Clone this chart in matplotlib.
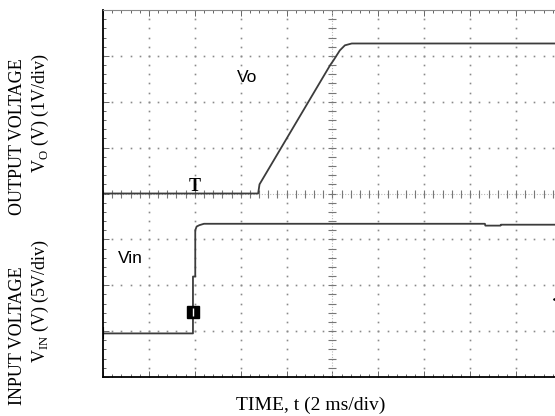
import numpy as np
import matplotlib
matplotlib.use("Agg")
from matplotlib import pyplot as plt
from matplotlib.ticker import MultipleLocator, NullFormatter

plt.rcParams['mathtext.fontset'] = 'custom'
plt.rcParams['mathtext.rm'] = 'Liberation Serif'

# 数据 (单位: 格 div) —— 横轴 0..10 div, 纵轴 0..8 div
vo_t = [0.0, 3.38, 3.41, 4.95, 5.02, 5.16, 5.27, 5.42, 10.0]
vo_v = [4.0, 4.0, 4.20, 6.80, 6.90, 7.12, 7.23, 7.27, 7.27]

vin_t = [0.0, 1.96, 1.96, 2.01, 2.01, 2.04, 2.10, 2.20, 8.32, 8.33, 8.66, 8.67, 10.0]
vin_v = [0.95, 0.95, 2.19, 2.19, 3.20, 3.28, 3.31, 3.34, 3.34, 3.30, 3.30, 3.32, 3.32]

trig_t = 1.97        # 触发标记位置
trig_level = 1.41
trig_arrow = 1.71    # 右侧触发电平箭头

x_divs = 10
y_divs = 8

fig = plt.figure(figsize=(5.55, 4.16), dpi=100)
# 坐标区右边被裁掉一点, 和原图一样
ax = fig.add_axes([103 / 555, 39 / 416, 459 / 555, 367 / 416])
ax.set_xlim(0, x_divs)
ax.set_ylim(0, y_divs)

# 网格: 点状
dots = np.arange(0, x_divs + 0.01, 0.2)
dots_y = np.arange(0, y_divs + 0.01, 0.2)
for gx in range(1, x_divs):
    if gx == 5:
        continue
    ax.plot([gx] * len(dots_y), dots_y, ls='none', marker='s', ms=1.2,
            mec='none', color='#8a8a8a')
for gy in range(1, y_divs):
    if gy == 4:
        continue
    ax.plot(dots, [gy] * len(dots), ls='none', marker='s', ms=1.2,
            mec='none', color='#8a8a8a')

# 中心十字线 + 小刻度
ax.axvline(5, color='#b8b8b8', lw=0.8, ls=(0, (1, 1.5)))
ax.axhline(4, color='#b8b8b8', lw=0.8, ls=(0, (1, 1.5)))
ax.plot([5] * len(dots_y), dots_y, ls='none', marker='_', ms=6, mew=0.8, color='#777777')
ax.plot(dots, [4] * len(dots), ls='none', marker='|', ms=6, mew=0.8, color='#777777')

# 边框刻度
ax.xaxis.set_major_locator(MultipleLocator(1))
ax.xaxis.set_minor_locator(MultipleLocator(0.2))
ax.yaxis.set_major_locator(MultipleLocator(1))
ax.yaxis.set_minor_locator(MultipleLocator(0.2))
ax.xaxis.set_major_formatter(NullFormatter())
ax.yaxis.set_major_formatter(NullFormatter())
ax.tick_params(which='both', direction='in', top=True, right=True,
               color='#666666', width=0.7)
ax.tick_params(which='major', length=4)
ax.tick_params(which='minor', length=2.5)
ax.spines['left'].set_linewidth(1.3)
ax.spines['bottom'].set_linewidth(1.3)
ax.spines['top'].set_color('#888888')
ax.spines['top'].set_linewidth(0.8)

# 波形
ax.plot(vo_t, vo_v, color='#3c3c3c', lw=1.3, solid_joinstyle='round')
ax.plot(vin_t, vin_v, color='#3c3c3c', lw=1.3, solid_joinstyle='round')

# 标记
ax.text(trig_t + 0.02, 3.97, 'T', family='Liberation Serif', fontsize=13, weight='bold',
        ha='center', va='bottom', color='black')
ax.plot([trig_t], [trig_level], ls='none', marker='s', ms=8, color='black')
ax.plot([trig_t], [trig_level], ls='none', marker='|', ms=6, mew=1, color='white')
ax.plot([9.86], [trig_arrow], ls='none', marker='<', ms=5, color='black')
ax.plot([0.0], [0.95], ls='none', marker='|', ms=9, mew=1.5, color='black')

ax.text(2.92, 6.43, 'Vo', family='Liberation Sans', fontsize=12.5, ha='left', va='baseline')
ax.text(0.33, 2.48, 'Vin', family='Liberation Sans', fontsize=12.5, ha='left', va='baseline')

# 轴标签
fig.text(18 / 555, 1 - 137 / 416, 'OUTPUT VOLTAGE', rotation=90, ha='center', va='center',
         family='Liberation Serif', fontsize=13)
fig.text(40 / 555, 1 - 113 / 416, r'V$_\mathrm{O}$ (V) (1V/div)', rotation=90, ha='center',
         va='center', family='Liberation Serif', fontsize=13)
fig.text(18 / 555, 1 - 336 / 416, 'INPUT VOLTAGE', rotation=90, ha='center', va='center',
         family='Liberation Serif', fontsize=13)
fig.text(40 / 555, 1 - 301 / 416, r'V$_\mathrm{IN}$ (V) (5V/div)', rotation=90, ha='center',
         va='center', family='Liberation Serif', fontsize=13)
fig.text(311 / 555, 1 - 405 / 416, 'TIME, t (2 ms/div)', ha='center', va='center',
         family='Liberation Serif', fontsize=14)

plt.savefig("out.png", dpi=100)
